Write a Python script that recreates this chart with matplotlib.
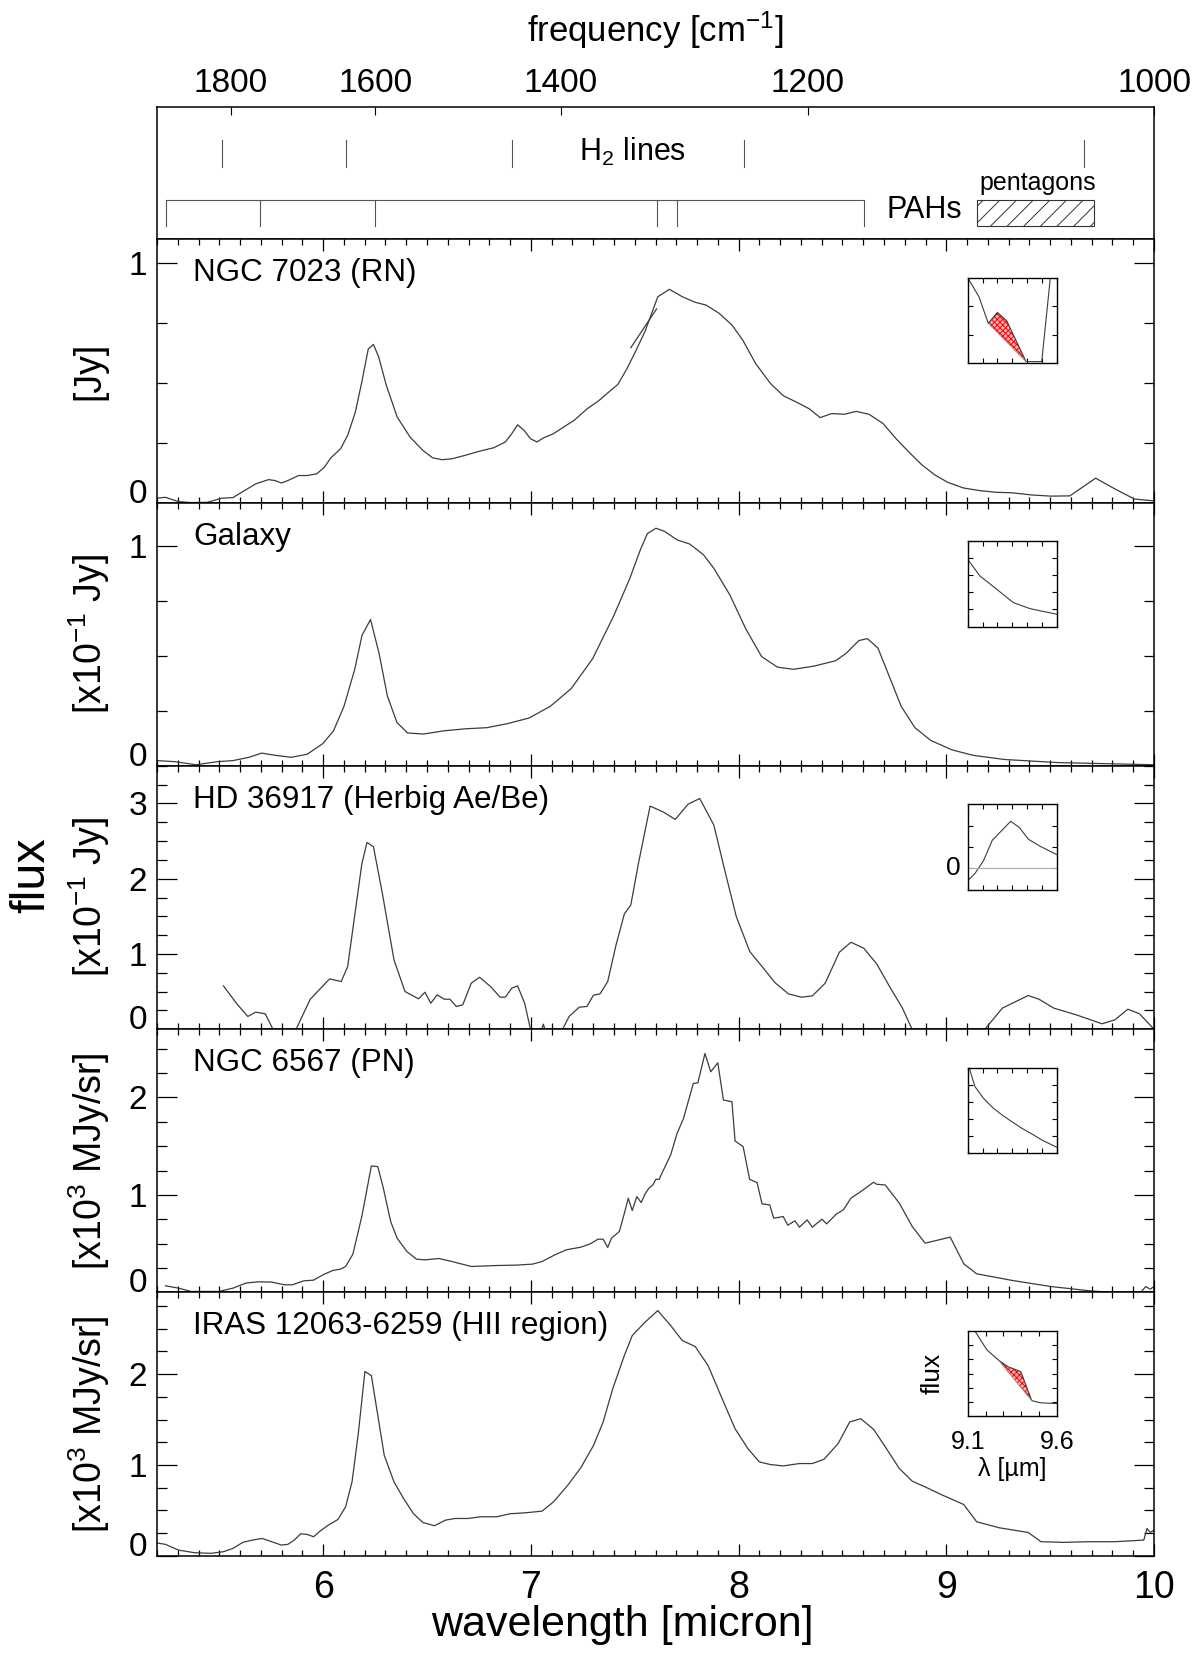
import numpy as np
import matplotlib.pyplot as plt
from matplotlib.ticker import MultipleLocator
from matplotlib.patches import Rectangle

plt.rcParams['font.family'] = ['Liberation Sans', 'DejaVu Sans']
plt.rcParams['mathtext.fontset'] = 'custom'
plt.rcParams['mathtext.rm'] = 'Liberation Sans'
plt.rcParams['mathtext.it'] = 'Liberation Sans:italic'
plt.rcParams['hatch.linewidth'] = 0.7

#----------------------------------------------------------#
# Spectra (wavelength in micron, flux in panel units)

wl_ngc7023 = [5.194, 5.241, 5.303, 5.365, 5.442, 5.51, 5.566, 5.613, 5.675, 5.737,
              5.768, 5.799, 5.83, 5.882, 5.923, 5.969, 6.006, 6.037, 6.084, 6.118,
              6.155, 6.186, 6.217, 6.242, 6.267, 6.304, 6.356, 6.418, 6.48, 6.527,
              6.573, 6.62, 6.682, 6.75, 6.821, 6.877, 6.908, 6.936, 6.967, 6.998,
              7.029, 7.06, 7.109, 7.162, 7.209, 7.271, 7.326, 7.37, 7.419, 7.463,
              7.503, 7.549, 7.611, 7.667, 7.729, 7.791, 7.844, 7.906, 7.968, 8.02,
              8.082, 8.154, 8.216, 8.278, 8.34, 8.393, 8.448, 8.51, 8.566, 8.628,
              8.696, 8.758, 8.82, 8.882, 8.944, 9.006, 9.083, 9.161, 9.238, 9.316,
              9.409, 9.502, 9.595, 9.719, 9.812, 9.905, 10.0]
fl_ngc7023 = [0.018, 0.022, 0.004, 0.0, 0.001, 0.018, 0.021, 0.046, 0.078, 0.096,
              0.092, 0.082, 0.092, 0.113, 0.113, 0.12, 0.148, 0.187, 0.225, 0.281,
              0.378, 0.504, 0.641, 0.661, 0.609, 0.49, 0.358, 0.274, 0.218, 0.187,
              0.179, 0.183, 0.197, 0.214, 0.229, 0.253, 0.288, 0.325, 0.302, 0.267,
              0.253, 0.27, 0.288, 0.318, 0.344, 0.392, 0.425, 0.458, 0.494, 0.56,
              0.63, 0.714, 0.86, 0.891, 0.86, 0.837, 0.825, 0.791, 0.742, 0.679,
              0.581, 0.497, 0.446, 0.42, 0.392, 0.355, 0.372, 0.369, 0.381, 0.369,
              0.33, 0.267, 0.211, 0.158, 0.116, 0.085, 0.061, 0.05, 0.043, 0.041,
              0.032, 0.027, 0.028, 0.102, 0.057, 0.015, 0.007]
# short offset segment near 7.5 micron
wl_ngc7023_seg = [7.481, 7.605]
fl_ngc7023_seg = [0.647, 0.809]

wl_galaxy = [5.2, 5.287, 5.388, 5.49, 5.566, 5.643, 5.704, 5.77, 5.846, 5.923,
             5.999, 6.05, 6.1, 6.152, 6.187, 6.228, 6.269, 6.309, 6.355, 6.406,
             6.482, 6.584, 6.686, 6.788, 6.89, 6.991, 7.093, 7.195, 7.297, 7.398,
             7.475, 7.526, 7.561, 7.602, 7.643, 7.704, 7.765, 7.831, 7.882, 7.958,
             8.035, 8.111, 8.187, 8.264, 8.365, 8.467, 8.518, 8.579, 8.62, 8.671,
             8.722, 8.783, 8.849, 8.925, 9.027, 9.129, 9.281, 9.536, 10.0]
fl_galaxy = [0.024, 0.019, 0.005, 0.019, 0.024, 0.039, 0.058, 0.048, 0.039, 0.053,
             0.102, 0.16, 0.271, 0.44, 0.595, 0.667, 0.513, 0.319, 0.198, 0.15,
             0.145, 0.16, 0.169, 0.174, 0.193, 0.218, 0.271, 0.353, 0.488, 0.682,
             0.851, 0.982, 1.059, 1.083, 1.069, 1.03, 1.011, 0.962, 0.899, 0.779,
             0.624, 0.498, 0.45, 0.44, 0.455, 0.479, 0.513, 0.571, 0.58, 0.537,
             0.416, 0.271, 0.174, 0.116, 0.073, 0.048, 0.029, 0.015, 0.005]

wl_hd36917 = [5.52, 5.582, 5.637, 5.675, 5.721, 5.758, 5.81, 5.87, 5.938, 6.031,
              6.087, 6.118, 6.186, 6.211, 6.242, 6.285, 6.341, 6.394, 6.459, 6.49,
              6.518, 6.549, 6.583, 6.61, 6.641, 6.672, 6.713, 6.753, 6.806, 6.852,
              6.877, 6.908, 6.936, 6.97, 6.998, 7.03, 7.06, 7.09, 7.153, 7.184,
              7.233, 7.27, 7.301, 7.333, 7.37, 7.41, 7.45, 7.481, 7.518, 7.574,
              7.636, 7.695, 7.757, 7.813, 7.881, 7.937, 7.989, 8.054, 8.113, 8.175,
              8.24, 8.302, 8.355, 8.417, 8.485, 8.541, 8.603, 8.665, 8.727, 8.789,
              8.835, 9.0, 9.186, 9.27, 9.394, 9.446, 9.518, 9.626, 9.75, 9.812,
              9.874, 9.93, 10.0]
fl_hd36917 = [0.575, 0.345, 0.168, 0.226, 0.204, 0.0, -0.3, 0.0, 0.398, 0.668,
              0.633, 0.832, 2.195, 2.482, 2.425, 1.805, 0.92, 0.5, 0.403, 0.491,
              0.345, 0.456, 0.398, 0.398, 0.301, 0.323, 0.611, 0.69, 0.566, 0.425,
              0.425, 0.544, 0.575, 0.345, 0.0, -0.2, 0.066, -0.2, 0.0, 0.168,
              0.292, 0.301, 0.451, 0.469, 0.633, 1.119, 1.531, 1.65, 2.204, 2.965,
              2.889, 2.788, 2.991, 3.066, 2.712, 2.071, 1.496, 1.031, 0.832, 0.619,
              0.469, 0.425, 0.442, 0.611, 1.022, 1.155, 1.075, 0.867, 0.566, 0.279,
              0.0, -0.4, 0.0, 0.279, 0.447, 0.398, 0.279, 0.19, 0.071, 0.124,
              0.265, 0.204, 0.0]

wl_ngc6567 = [5.241, 5.303, 5.365, 5.498, 5.566, 5.628, 5.69, 5.752, 5.814, 5.851,
              5.907, 5.954, 6.0, 6.046, 6.084, 6.108, 6.143, 6.186, 6.232, 6.263,
              6.288, 6.325, 6.356, 6.403, 6.449, 6.49, 6.558, 6.62, 6.713, 6.837,
              6.93, 7.007, 7.054, 7.116, 7.171, 7.24, 7.286, 7.323, 7.348, 7.37,
              7.388, 7.426, 7.448, 7.469, 7.488, 7.51, 7.531, 7.55, 7.568, 7.587,
              7.602, 7.618, 7.627, 7.673, 7.704, 7.735, 7.782, 7.804, 7.838, 7.866,
              7.9, 7.927, 7.968, 7.983, 8.022, 8.053, 8.089, 8.113, 8.15, 8.169,
              8.215, 8.237, 8.271, 8.293, 8.33, 8.355, 8.401, 8.424, 8.47, 8.504,
              8.541, 8.588, 8.65, 8.665, 8.706, 8.774, 8.836, 8.898, 9.019, 9.084,
              9.146, 9.317, 9.502, 9.688, 9.797, 9.936, 9.96, 9.982, 10.0]
fl_ngc6567 = [0.068, 0.044, 0.01, 0.01, 0.044, 0.096, 0.109, 0.106, 0.078, 0.078,
              0.119, 0.126, 0.181, 0.225, 0.239, 0.266, 0.392, 0.778, 1.297, 1.29,
              1.085, 0.727, 0.556, 0.42, 0.341, 0.334, 0.348, 0.317, 0.266, 0.276,
              0.28, 0.29, 0.317, 0.386, 0.437, 0.464, 0.498, 0.546, 0.546, 0.461,
              0.556, 0.625, 0.795, 0.966, 0.84, 0.983, 0.922, 1.01, 1.068, 1.102,
              1.16, 1.16, 1.205, 1.41, 1.631, 1.785, 2.143, 2.15, 2.45, 2.263,
              2.355, 1.973, 1.956, 1.553, 1.495, 1.16, 1.126, 0.908, 0.898, 0.761,
              0.778, 0.689, 0.734, 0.669, 0.744, 0.669, 0.751, 0.703, 0.802, 0.846,
              0.966, 1.034, 1.13, 1.109, 1.102, 0.915, 0.676, 0.505, 0.567, 0.294,
              0.191, 0.123, 0.061, 0.017, 0.0, 0.0, 0.06, 0.034, 0.06]

wl_iras = [5.2, 5.241, 5.303, 5.38, 5.458, 5.52, 5.566, 5.613, 5.659, 5.706,
           5.752, 5.799, 5.83, 5.861, 5.892, 5.923, 5.954, 5.985, 6.025, 6.071,
           6.108, 6.139, 6.17, 6.201, 6.232, 6.263, 6.294, 6.341, 6.387, 6.434,
           6.48, 6.536, 6.589, 6.635, 6.697, 6.759, 6.837, 6.899, 6.976, 7.054,
           7.109, 7.178, 7.24, 7.302, 7.348, 7.394, 7.45, 7.488, 7.549, 7.611,
           7.673, 7.729, 7.791, 7.853, 7.921, 7.983, 8.045, 8.1, 8.153, 8.215,
           8.293, 8.355, 8.411, 8.479, 8.535, 8.588, 8.65, 8.712, 8.774, 8.836,
           8.898, 8.975, 9.084, 9.146, 9.254, 9.394, 9.456, 9.564, 9.688, 9.812,
           9.951, 9.966, 9.982, 10.0]
fl_iras = [0.14, 0.125, 0.062, 0.033, 0.026, 0.044, 0.081, 0.147, 0.172, 0.19,
           0.154, 0.117, 0.125, 0.172, 0.242, 0.234, 0.209, 0.271, 0.337, 0.399,
           0.538, 0.813, 1.363, 2.029, 1.985, 1.546, 1.106, 0.813, 0.63, 0.465,
           0.366, 0.33, 0.392, 0.41, 0.41, 0.429, 0.429, 0.462, 0.473, 0.491,
           0.593, 0.777, 0.967, 1.216, 1.473, 1.839, 2.205, 2.425, 2.571, 2.7,
           2.535, 2.37, 2.304, 2.095, 1.729, 1.399, 1.179, 1.033, 1.004, 0.989,
           1.015, 1.015, 1.062, 1.234, 1.473, 1.509, 1.392, 1.179, 0.96, 0.821,
           0.758, 0.674, 0.564, 0.374, 0.308, 0.256, 0.154, 0.147, 0.154, 0.154,
           0.172, 0.3, 0.256, 0.282]

#----------------------------------------------------------#
# Inset curves around 9.1-9.7 micron (flux in arbitrary units)

ins_wl_1 = [9.1, 9.176, 9.239, 9.3, 9.363, 9.493, 9.599, 9.66]
ins_fl_1 = [1.0, 0.778, 0.467, 0.595, 0.498, 0.02, 0.02, 1.05]
ins_wl_2 = [9.1, 9.183, 9.296, 9.408, 9.52, 9.7]
ins_fl_2 = [0.786, 0.591, 0.436, 0.28, 0.21, 0.144]
ins_wl_3 = [9.1, 9.149, 9.206, 9.266, 9.39, 9.449, 9.509, 9.588, 9.7]
ins_fl_3 = [-0.144, -0.058, 0.089, 0.331, 0.552, 0.478, 0.342, 0.26, 0.163]
ins_wl_4 = [9.111, 9.149, 9.206, 9.273, 9.34, 9.396, 9.464, 9.531, 9.61, 9.7]
ins_fl_4 = [0.992, 0.778, 0.642, 0.525, 0.436, 0.37, 0.292, 0.226, 0.144, 0.07]
ins_wl_5 = [9.145, 9.207, 9.272, 9.328, 9.398, 9.46, 9.506, 9.6]
ins_fl_5 = [0.985, 0.78, 0.66, 0.58, 0.525, 0.185, 0.16, 0.15]

# index range of the hatched (red) feature in insets 1 and 5
ins_feat_1 = (2, 5)
ins_feat_5 = (2, 5)

#----------------------------------------------------------#
# Line identifications for the top box

h2_lines = [5.511, 6.109, 6.910, 8.025, 9.665]
pah_bands = [5.245, 5.698, 6.248, 7.606, 7.702, 8.604]
pentagon_band = (9.149, 9.712)
freq_ticks = [1800, 1600, 1400, 1200, 1000]

#----------------------------------------------------------#

names = ['NGC 7023 (RN)', 'Galaxy', 'HD 36917 (Herbig Ae/Be)',
         'NGC 6567 (PN)', 'IRAS 12063-6259 (HII region)']
units = ['[Jy]', r'[x10$^{-1}$ Jy]', r'[x10$^{-1}$ Jy]',
         r'[x10$^{3}$ MJy/sr]', r'[x10$^{3}$ MJy/sr]']
ymaxs = [1.1, 1.2, 3.5, 2.7, 2.9]
ymajors = [[0, 1], [0, 1], [0, 1, 2, 3], [0, 1, 2], [0, 1, 2]]
spectra = [(wl_ngc7023, fl_ngc7023), (wl_galaxy, fl_galaxy), (wl_hd36917, fl_hd36917),
           (wl_ngc6567, fl_ngc6567), (wl_iras, fl_iras)]
insets = [(ins_wl_1, ins_fl_1), (ins_wl_2, ins_fl_2), (ins_wl_3, ins_fl_3),
          (ins_wl_4, ins_fl_4), (ins_wl_5, ins_fl_5)]

line_col = '#3c3c3c'
W, H = 1200, 1662
fig = plt.figure(figsize=(12, 16.62), dpi=100)

x0, x1 = 157, 1154
top0 = 239.3
ph = 263.28

def fig_rect(left, top, width, height):
    return [left / W, 1 - (top + height) / H, width / W, height / H]

#----------------------------------------------------------#
# Top box with frequency axis and band markers

axt = fig.add_axes(fig_rect(x0, 107, x1 - x0, top0 - 107))
axt.set_xlim(5.2, 10)
axt.set_ylim(0, 1)
axt.set_yticks([])
axt.xaxis.tick_top()
axt.set_xticks([1e4 / f for f in freq_ticks])
axt.set_xticklabels([str(f) for f in freq_ticks])
axt.tick_params(axis='x', direction='in', length=5.8, width=0.8, labelsize=24, pad=6)
for s in axt.spines.values():
    s.set_linewidth(1.1)

for xl in h2_lines:
    axt.plot([xl, xl], [0.546, 0.751], color='#555555', lw=0.8)
axt.text(7.49, 0.66, r'H$_2$ lines', fontsize=22, ha='center', va='center')

axt.plot([pah_bands[0], pah_bands[-1]], [0.297, 0.297], color='#555555', lw=0.8)
for xp in pah_bands:
    axt.plot([xp, xp], [0.1, 0.297], color='#555555', lw=0.8)
axt.text(8.895, 0.221, 'PAHs', fontsize=22, ha='center', va='center')
axt.add_patch(Rectangle((pentagon_band[0], 0.1), pentagon_band[1] - pentagon_band[0], 0.197,
                        transform=axt.transData, fill=False, hatch='//',
                        edgecolor='#333333', lw=0.8))
axt.text(9.439, 0.425, 'pentagons', fontsize=18, ha='center', va='center')

fig.text((x0 + x1) / 2 / W, 1 - 30 / H, r'frequency [cm$^{-1}$]', fontsize=25,
         ha='center', va='center')

#----------------------------------------------------------#
# Spectral panels

for i in range(5):
    ptop = top0 + i * ph
    ax = fig.add_axes(fig_rect(x0, ptop, x1 - x0, ph))
    wl, fl = spectra[i]
    ax.plot(wl, fl, color=line_col, lw=0.9)
    if i == 0:
        ax.plot(wl_ngc7023_seg, fl_ngc7023_seg, color=line_col, lw=0.9)
    ax.set_xlim(5.2, 10)
    ax.set_ylim(0, ymaxs[i])
    ax.xaxis.set_major_locator(MultipleLocator(1))
    ax.xaxis.set_minor_locator(MultipleLocator(0.1))
    ax.set_yticks(ymajors[i])
    ax.set_yticklabels([str(v) for v in ymajors[i]])
    ax.yaxis.set_minor_locator(MultipleLocator(0.25))
    ax.tick_params(which='both', direction='in', top=True, right=True, width=0.9)
    ax.tick_params(axis='x', which='major', length=8.6)
    ax.tick_params(axis='x', which='minor', length=4.3)
    ax.tick_params(axis='y', which='major', length=14.4, labelsize=24, pad=7)
    ax.tick_params(axis='y', which='minor', length=7.2)
    for lab in ax.get_yticklabels():
        if lab.get_text() == '0':
            lab.set_va('baseline')
    for s in ax.spines.values():
        s.set_linewidth(1.1)
    if i < 4:
        ax.set_xticklabels([])
    else:
        ax.tick_params(axis='x', which='major', labelsize=27, pad=10)
    ax.text(0.0361, 1 - 42 / ph, names[i], transform=ax.transAxes, fontsize=22.6,
            ha='left', va='baseline')
    fig.text(89 / W, 1 - (ptop + ph / 2) / H, units[i], fontsize=27, rotation=90,
             ha='center', va='center')

    # inset
    axi = fig.add_axes(fig_rect(967.7, ptop + 38.5, 89, 85.5))
    iwl, ifl = insets[i]
    axi.plot(iwl, ifl, color=line_col, lw=0.8)
    axi.set_xlim(9.1, 9.6 if i == 4 else 9.7)
    axi.xaxis.set_minor_locator(MultipleLocator(0.1))
    axi.set_xticks([])
    axi.tick_params(which='both', direction='in', top=True, right=True,
                    length=3.6, width=0.8, labelleft=False, labelbottom=False)
    for s in axi.spines.values():
        s.set_linewidth(1.0)
    if i == 0:
        axi.set_ylim(0, 1)
        axi.set_yticks([1 / 3, 2 / 3])
    elif i == 2:
        axi.set_ylim(-0.25, 0.75)
        axi.set_yticks([0, 0.25, 0.5])
        axi.axhline(0, color='#aaaaaa', lw=0.8)
        axi.text(-0.08, 0.25, '0', transform=axi.transAxes, fontsize=19,
                 ha='right', va='center')
    elif i == 4:
        axi.set_ylim(0, 1)
        axi.set_yticks([k / 6 for k in range(1, 6)])
    else:
        axi.set_ylim(0, 1)
        axi.set_yticks([0.2, 0.4, 0.6, 0.8])
    axi.set_yticklabels([])
    if i in (0, 4):
        a, b = ins_feat_1 if i == 0 else ins_feat_5
        xs = np.array(iwl[a:b + 1])
        ys = np.array(ifl[a:b + 1])
        base = np.interp(xs, [xs[0], xs[-1]], [ys[0], ys[-1]])
        axi.fill_between(xs, base, ys, facecolor='#ffb3b3', edgecolor='red',
                         hatch='xxxxxx', lw=0)
        axi.plot([xs[0], xs[-1]], [ys[0], ys[-1]], color='#888888', lw=0.6)
    if i == 4:
        axi.set_xticks([9.1, 9.6])
        axi.set_xticklabels(['9.1', '9.6'])
        axi.tick_params(axis='x', which='major', labelbottom=True, labelsize=18,
                        pad=10, length=0)
        axi.set_xlabel('λ [µm]', fontsize=18, labelpad=2)
        axi.text(-0.39, 0.5, 'flux', transform=axi.transAxes, fontsize=19,
                 rotation=90, ha='center', va='center')

fig.text(622 / W, 1 - 1625 / H, 'wavelength [micron]', fontsize=31,
         ha='center', va='center')
fig.text(32 / W, 1 - 875 / H, 'flux', fontsize=35, rotation=90,
         ha='center', va='center')

fig.savefig('out.png', dpi=100)
